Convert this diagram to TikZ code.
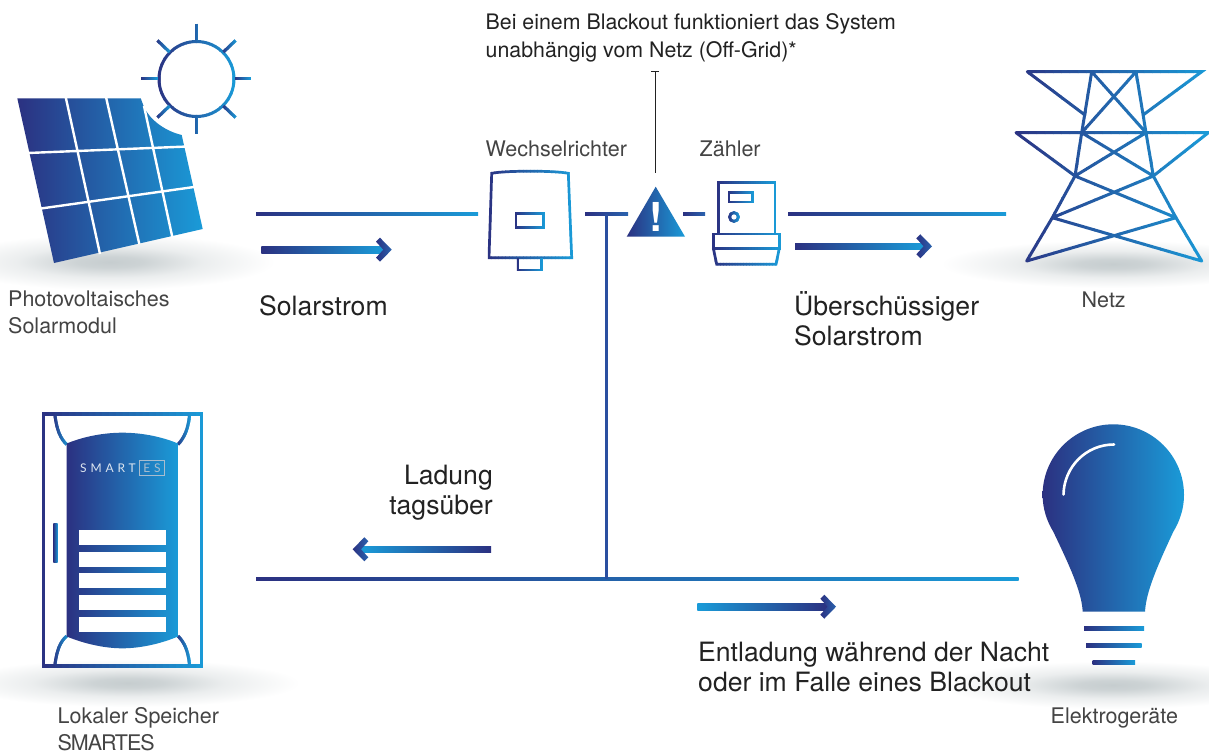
\documentclass[tikz,border=0pt]{standalone}
\usepackage{fontspec}
\setmainfont{TeX Gyre Heros}
\newfontfamily\logofont{Lato}
\usetikzlibrary{calc,arrows.meta}
\definecolor{gA}{HTML}{2B3181}
\definecolor{gM}{HTML}{2A63AE}
\definecolor{gB}{HTML}{1A9BD8}
\definecolor{wireV}{HTML}{2A4FA0}
\definecolor{txtDark}{HTML}{222222}
\definecolor{txtSoft}{HTML}{444444}
\definecolor{shC}{HTML}{C6CDCF}
\definecolor{logoA}{HTML}{DDE6F0}
\definecolor{logoB}{HTML}{A9BDCF}
\pgfdeclareradialshading{floorshadow}{\pgfpointorigin}{color(0bp)=(shC); color(5bp)=(shC!88!white); color(14bp)=(shC!35!white); color(25bp)=(white); color(50bp)=(white)}
\newcommand\gradN{24}
\newcommand\gradstroke[4][]{%
  \foreach \ii in {1,...,\gradN}{%
    \pgfmathsetmacro\xa{#2+(#3-#2)*(\ii-1)/\gradN-0.25}%
    \pgfmathsetmacro\xb{#2+(#3-#2)*\ii/\gradN+0.25}%
    \pgfmathsetmacro\pc{100*(\ii-0.5)/\gradN}%
    \begin{scope}
      \clip (\xa,-50) rectangle (\xb,850);
      \draw[draw=gB!\pc!gA,#1] #4;
    \end{scope}}}
\newcommand\gradwire[2]{\shade[left color=gA,right color=gB] ($(#1)+(0,-1.4)$) rectangle ($(#2)+(0,1.4)$);}
\newcommand\chevronat[2]{%
  \begin{scope}[shift={(#1)},xscale=#2]
    \shade[left color=gA,right color=gM] (-3.3,-12) -- (8.4,0) -- (-3.3,12) -- (-7.3,8) -- (0,0) -- (-7.3,-8) -- cycle;
  \end{scope}}
\tikzset{
  lbl/.style={inner sep=0pt,anchor=north west,align=left,text=txtSoft,font=\fontsize{21.5}{27}\selectfont},
  big/.style={inner sep=0pt,anchor=north west,align=left,text=txtDark,font=\fontsize{26.6}{30.5}\selectfont},
  note/.style={inner sep=0pt,anchor=north west,align=left,text=txtDark,font=\fontsize{21.35}{28}\selectfont},
  shadowblob/.style={shading=floorshadow},
  icon/.style={line width=2.7pt,line join=miter},
  tower/.style={line width=3pt,line join=miter,line cap=round},
  callout/.style={draw=txtDark,line width=1pt}
}
\begin{document}
\begin{tikzpicture}[x=1pt,y=-1pt]
\useasboundingbox (0,0) rectangle (1209,754);
\clip (0,0) rectangle (1209,754);
\fill[white] (0,0) rectangle (1209,754);

% floor shadows
\path[shadowblob] (110,262) ellipse [x radius=165,y radius=28];
\path[shadowblob] (1113,264) ellipse [x radius=172,y radius=24];
\path[shadowblob] (128,683) ellipse [x radius=172,y radius=24];
\path[shadowblob] (1113,685) ellipse [x radius=172,y radius=24];

% sun
\gradstroke[line width=3pt]{157}{236}{(196.5,79) circle [radius=37.5]}
\gradstroke[line width=3pt]{141}{158}{(141,79) -- (158,79)}
\gradstroke[line width=3pt]{235}{251}{(235,79) -- (251,79)}
\gradstroke[line width=3pt]{190}{203}{(196.5,24) -- (196.5,41)}
\gradstroke[line width=3pt]{190}{203}{(196.5,117) -- (196.5,134)}
\gradstroke[line width=3pt]{156}{171}{(157.5,40.5) -- (169.5,52)}
\gradstroke[line width=3pt]{222}{237}{(235.5,40.5) -- (223.5,52)}
\gradstroke[line width=3pt]{156}{171}{(157.5,117.5) -- (169.5,106)}
\gradstroke[line width=3pt]{222}{237}{(235.5,117.5) -- (223.5,106)}

% solar panel
\shade[left color=gA,right color=gB] (17.3,98.3) -- (140.7,98.3) -- (144,107)
  .. controls (150,120) and (165,131) .. (181.7,135) -- (202.7,229) -- (54,263) -- cycle;
\begin{scope}[white,line width=2.4pt]
  \draw (65.7,97) -- (100,254);
  \draw (106,97) -- (139.3,244);
  \draw (144,106) -- (172.3,237);
  \draw (28,153) -- (185,146.6);
  \draw (41,208.5) -- (194,187);
\end{scope}

% inverter
\gradstroke[icon]{488}{573}{(489,257.7) -- (491.7,173.3) .. controls (505,170.5) and (555,170.5) .. (568.3,173.3) -- (571.7,257.7) -- cycle}
\gradstroke[icon]{515}{545}{(516,213.3) rectangle (543.3,227.7)}
\gradstroke[icon]{517}{543}{(517.7,258) -- (517.7,270) -- (541.7,270) -- (541.7,258)}

% warning triangle
\shade[left color=gA,right color=gB] (655.7,186.7) -- (685,236.7) -- (626.7,236.7) -- cycle;
\node[inner sep=0pt,text=white,font=\fontsize{40}{40}\selectfont\bfseries] (warnmark) at (655.7,217) {!};

% meter
\gradstroke[icon]{717}{776}{(718.3,234) -- (718.3,182.3) -- (775,182.3) -- (775,234)}
\gradstroke[icon]{728}{754}{(729,192.3) rectangle (752.7,202)}
\gradstroke[icon]{728}{740}{(734,217) circle [radius=4.4]}
\gradstroke[icon]{712}{781}{(713.3,234) rectangle (779.3,248.3)}
\gradstroke[icon]{712}{781}{(713.3,248.3) -- (716.7,264.3) -- (776,264.3) -- (779.3,248.3)}

% pylon
\gradstroke[tower]{1012}{1210}{(1027.3,71.7) -- (1201.7,71.7) -- (1144,114.3)
  (1027.3,71.7) -- (1084,114.3)
  (1016,132.7) -- (1208.3,132.7) -- (1153.3,176)
  (1016,132.7) -- (1075,176)
  (1091.7,71.7) -- (1081.7,132.7) -- (1075,176) -- (1052.3,217.7) -- (1026.7,261)
  (1136,71.7) -- (1146,132.7) -- (1153.3,176) -- (1176,217.7) -- (1201.7,261)
  (1091.7,71.7) -- (1146,132.7)
  (1136,71.7) -- (1081.7,132.7)
  (1081.7,132.7) -- (1153.3,176)
  (1146,132.7) -- (1075,176)
  (1075,176) -- (1176,217.7)
  (1153.3,176) -- (1052.3,217.7)
  (1052.3,217.7) -- (1201.7,261)
  (1176,217.7) -- (1026.7,261)}

% storage unit
\gradstroke[line width=3.4pt,line join=miter]{42}{203}{(43.3,414) rectangle (201.7,666)}
\gradstroke[line width=3pt]{53}{69}{(55,416) .. controls (57,430) and (60,438) .. (66.7,444.5)}
\gradstroke[line width=3pt]{176}{191}{(189.5,416) .. controls (188,430) and (184,438) .. (178,444.5)}
\gradstroke[line width=3pt]{53}{69}{(55,664) .. controls (57,650) and (60,642) .. (66.7,636)}
\gradstroke[line width=3pt]{176}{191}{(189.5,664) .. controls (188,650) and (184,642) .. (178,636)}
\shade[left color=gA,right color=gB] (66.7,443.5) .. controls (85,436) and (105,432.7) .. (122.3,432.7)
  .. controls (140,432.7) and (160,436) .. (178,443.5) -- (178,636.5)
  .. controls (160,644) and (140,648.3) .. (122.3,648.3) .. controls (105,648.3) and (85,644) .. (66.7,636.5) -- cycle;
\shade[left color=gA,right color=gB] (53.3,523.3) rectangle (57.7,562.7);
\foreach \yy in {530,552,573,595,617}{\fill[white] (79,\yy) rectangle (166,\yy+15);}
\node[inner sep=0pt,anchor=base west,text=logoA,font=\logofont\fontsize{12}{12}\selectfont\addfontfeature{LetterSpace=32}] (logoS) at (80,472) {SMART};
\node[inner sep=0pt,anchor=base,text=logoB,font=\logofont\fontsize{12}{12}\selectfont\addfontfeature{LetterSpace=32}] (logoE) at (152,472) {ES};
\draw[logoB,line width=0.7pt] (139.5,460.3) rectangle (164.3,475);

% bulb
\shade[left color=gA,right color=gB] (1082.7,611.7) .. controls (1081.7,592) and (1070,566.7) .. (1053.3,531.7)
  .. controls (1046.5,520.6) and (1042.6,508) .. (1042.6,495)
  .. controls (1042.6,456) and (1074.3,424.3) .. (1113.3,424.3)
  .. controls (1152.3,424.3) and (1184,456) .. (1184,495)
  .. controls (1184,508) and (1180.1,520.6) .. (1173.3,531.7)
  .. controls (1157,566.7) and (1146,592) .. (1145,611.7) -- cycle;
\draw[white,line width=2.6pt,line cap=round] (1063.5,494.5) .. controls (1064,467) and (1086,444.5) .. (1114,444.5);
\shade[left color=gA,right color=gB] (1084,626.7) rectangle (1144,630.9);
\shade[left color=gA,right color=gB] (1086,643.5) rectangle (1141.7,647.7);
\shade[left color=gA,right color=gB] (1092.7,660.4) rectangle (1135,664.7);

% wires
\coordinate (pvOut) at (256,213.7);
\coordinate (invIn) at (478,213.7);
\coordinate (invOut) at (585,213.7);
\coordinate (warnIn) at (628,213.7);
\coordinate (warnOut) at (683,213.7);
\coordinate (meterIn) at (705,213.7);
\coordinate (meterOut) at (788,213.7);
\coordinate (gridIn) at (1006,213.7);
\coordinate (busL) at (256,579);
\coordinate (busR) at (1018.7,579);
\coordinate (busTee) at (606.7,579);
\coordinate (invTee) at (606.7,213.7);
\gradwire{pvOut}{invIn}
\shade[left color=gA,right color=gM] ($(invOut)+(0,-1.4)$) rectangle ($(warnIn)+(0,1.4)$);
\shade[left color=gA,right color=gM] ($(warnOut)+(0,-1.4)$) rectangle ($(meterIn)+(0,1.4)$);
\gradwire{meterOut}{gridIn}
\gradwire{busL}{busR}
\draw[wireV,line width=2.6pt] (invTee) -- (busTee);

% flow arrows
\coordinate (f1a) at (261.3,249.7); \coordinate (f1b) at (383.3,249.7);
\coordinate (f2b) at (491,549.3);
\coordinate (f2c) at (361,549.3);
\coordinate (f3a) at (697.3,606.7); \coordinate (f3b) at (827.6,606.7);
\coordinate (f4a) at (795,246.3); \coordinate (f4b) at (923.6,246.3);
\shade[left color=gA,right color=gB] ($(f1a)+(0,-3.3)$) rectangle ($(f1b)+(0,3.3)$);
\chevronat{f1b}{1}
\shade[left color=gB,right color=gA] ($(f2c)+(0,-3.3)$) rectangle ($(f2b)+(0,3.3)$);
\chevronat{f2c}{-1}
\shade[left color=gB,right color=gA] ($(f3a)+(0,-3.3)$) rectangle ($(f3b)+(0,3.3)$);
\chevronat{f3b}{1}
\shade[left color=gA,right color=gB] ($(f4a)+(0,-3.3)$) rectangle ($(f4b)+(0,3.3)$);
\chevronat{f4b}{1}

% callout
\coordinate (calloutTop) at (655.3,71.5);
\coordinate (calloutBot) at (655.3,172.7);
\draw[callout,{Bar[width=8.3pt,line width=1pt]}-] (calloutTop) -- (calloutBot);

% labels
\node[note] (noteTxt) at (485.5,13) {Bei einem Blackout funktioniert das System\\unabhängig vom Netz (Off-Grid)*};
\node[lbl] (pvLbl) at (8,290.5) {Photovoltaisches\\Solarmodul};
\node[lbl] (invLbl) at (485.5,140.5) {Wechselrichter};
\node[lbl] (meterLbl) at (699.5,140.5) {Zähler};
\node[lbl] (gridLbl) at (1081.5,291.5) {Netz};
\node[lbl] (storeLbl) at (57.5,707.5) {Lokaler Speicher\\{\addfontfeature{LetterSpace=-5}SMARTES}};
\node[lbl] (loadLbl) at (1050.5,708) {Elektrogeräte};
\node[big] (solarTxt) at (259,295.5) {Solarstrom};
\node[big] (surplusTxt) at (794,291) {Überschüssiger\\Solarstrom};
\node[big,align=right,anchor=north east] (chargeTxt) at (493,464.5) {Ladung\\tagsüber};
\node[big] (dischargeTxt) at (698,641.5) {Entladung während der Nacht\\oder im Falle eines Blackout};
\end{tikzpicture}
\end{document}
